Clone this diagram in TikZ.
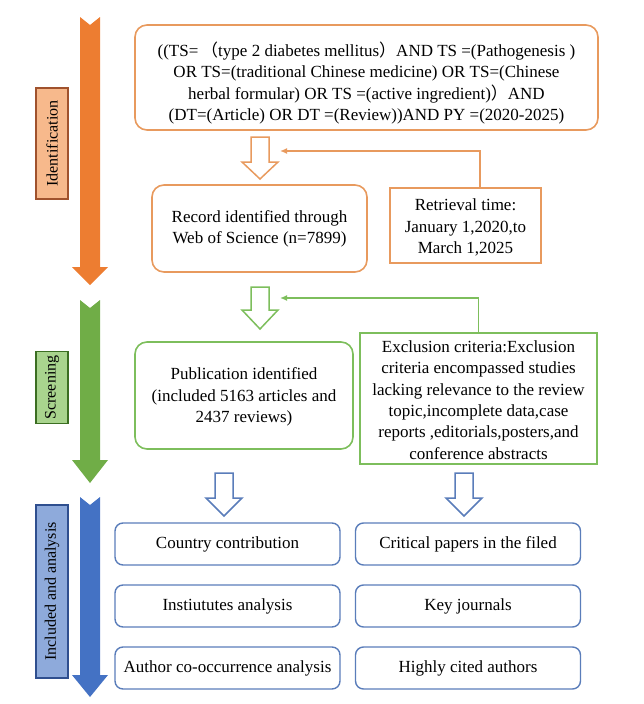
\documentclass[tikz,border=0pt]{standalone}
\usepackage{fontspec}
\setmainfont{Liberation Serif}
\newfontfamily\cjkf{Noto Sans CJK SC}
\usetikzlibrary{calc,arrows.meta}
\definecolor{oarr}{HTML}{ED7D31}
\definecolor{obox}{HTML}{E89A5E}
\definecolor{olabf}{HTML}{F7B98C}
\definecolor{olabd}{HTML}{A0522D}
\definecolor{garr}{HTML}{70AD47}
\definecolor{gbox}{HTML}{7DBE5C}
\definecolor{glabf}{HTML}{A9D48E}
\definecolor{glabd}{HTML}{3B6E22}
\definecolor{barr}{HTML}{4472C4}
\definecolor{bbox}{HTML}{5A7DBA}
\definecolor{blabf}{HTML}{8EAADB}
\definecolor{blabd}{HTML}{2F4F8F}
\tikzset{
  txt/.style={font=\fontsize{17}{21.3}\selectfont, align=center, inner sep=0pt},
  rbox/.style={txt, draw, line width=1.6pt, rounded corners=12pt},
  sbox/.style={txt, draw, line width=1.6pt},
  anbox/.style={txt, draw=bbox, line width=1.4pt, rounded corners=8pt, minimum width=225pt, minimum height=42pt},
  vlabel/.style={txt, font=\fontsize{16}{20}\selectfont, draw, line width=1.2pt, rotate=90, minimum height=32pt},
  hollow/.style={line width=1.5pt, fill=white, line join=miter},
  conn/.style={line width=1.5pt, -{Latex[length=7pt,width=6pt]}},
}
\begin{document}
\begin{tikzpicture}[x=1pt,y=-1pt]
\useasboundingbox (0,0) rectangle (644,704);
% big stage arrows
\fill[oarr] (80,17) -- (90,25) -- (100,17) -- (100,267) -- (108,267) -- (90,285) -- (72,267) -- (80,267) -- cycle;
\fill[garr] (80,300) -- (90,308) -- (100,300) -- (100,460) -- (108,460) -- (90,483) -- (72,460) -- (80,460) -- cycle;
\fill[barr] (80,497) -- (90,505) -- (100,497) -- (100,675) -- (108,675) -- (90,697) -- (72,675) -- (80,675) -- cycle;
% stage labels
\node[vlabel, draw=olabd, fill=olabf, minimum width=111pt] (lid) at (52,143.5) {Identification};
\node[vlabel, draw=glabd, fill=glabf, minimum width=72pt] (lsc) at (52,387.5) {Screening};
\node[vlabel, draw=blabd, fill=blabf, minimum width=173pt] (lin) at (52,591.5) {Included and analysis};
% identification
\node[rbox, draw=obox, minimum width=463pt, minimum height=105pt] (query) at (366.5,77.5) {};
\node[txt] (queryt) at (366.5,83)
 {((TS=\,{\cjkf （}type 2 diabetes mellitus{\cjkf ）}AND TS =(Pathogenesis )\\
  OR TS=(traditional Chinese medicine) OR TS=(Chinese\\
  herbal formular) OR TS =(active ingredient){\cjkf ）}AND\\
  (DT=(Article) OR DT =(Review))AND PY =(2020-2025)};
\node[rbox, draw=obox, minimum width=215pt, minimum height=87pt] (rec) at (259.5,228.5)
 {Record identified through\\Web of Science (n=7899)};
\node[sbox, draw=obox, minimum width=151pt, minimum height=75pt] (ret) at (465.5,225.5) {};
\node[txt] (rett) at (465.5,227.5) {Retrieval time:\\January 1,2020,to\\March 1,2025};
\draw[hollow, draw=obox] (251,137) -- (269,137) -- (269,162) -- (278,162) -- (260,179) -- (242,162) -- (251,162) -- cycle;
\coordinate (oa) at (280,151);
\draw[conn, draw=obox] ($(ret.north)+(14.5,0)$) |- (oa);
% screening
\draw[hollow, draw=gbox] (251,287) -- (269,287) -- (269,310) -- (278,310) -- (260,329) -- (242,310) -- (251,310) -- cycle;
\node[rbox, draw=gbox, minimum width=218pt, minimum height=107pt] (pub) at (244,395.5) {};
\node[txt] (pubt) at (244,397) {Publication identified\\(included 5163 articles and\\2437 reviews)};
\node[sbox, draw=gbox, minimum width=237pt, minimum height=131pt] (exc) at (478.5,398.5) {};
\node[txt] (exct) at (478.5,400)
 {Exclusion criteria:Exclusion\\criteria encompassed studies\\lacking relevance to the review\\topic,incomplete data,case\\reports ,editorials,posters,and\\conference abstracts};
\coordinate (ga) at (280,298);
\draw[conn, draw=gbox] (exc.north) |- (ga);
% included
\draw[hollow, draw=bbox] (215,473) -- (233,473) -- (233,498) -- (242,498) -- (224,516) -- (206,498) -- (215,498) -- cycle;
\draw[hollow, draw=bbox] (455,473) -- (473,473) -- (473,498) -- (482,498) -- (464,516) -- (446,498) -- (455,498) -- cycle;
\node[anbox] (a1) at (227.5,544) {Country contribution};
\node[anbox] (a2) at (227.5,606) {Instiututes analysis};
\node[anbox] (a3) at (227.5,668) {Author co-occurrence analysis};
\node[anbox] (b1) at (468,544) {Critical papers in the filed};
\node[anbox] (b2) at (468,606) {Key journals};
\node[anbox] (b3) at (468,668) {Highly cited authors};
\end{tikzpicture}
\end{document}
